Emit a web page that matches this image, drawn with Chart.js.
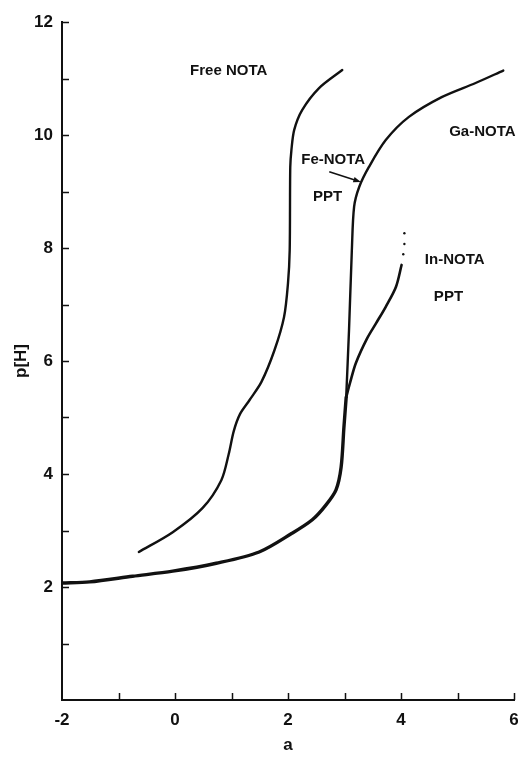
<!DOCTYPE html>
<html>
<head>
<meta charset="utf-8">
<script src="https://cdn.jsdelivr.net/npm/chart.js@4.4.0/dist/chart.umd.min.js"></script>
<style>
  html, body { margin: 0; padding: 0; background: #fff; }
</style>
</head>
<body>
<canvas id="titration" width="518" height="761"></canvas>
<script>
// titration curves: p[H] vs a (equivalents of base)

// Free NOTA curve
const freeX = [-0.64, -0.04, 0.49, 0.82, 0.95, 1.04, 1.15, 1.32, 1.53, 1.76, 1.93, 2.00, 2.03, 2.04, 2.06, 2.11, 2.25, 2.55, 2.96];
const freeY = [2.62, 2.97, 3.40, 3.89, 4.35, 4.76, 5.06, 5.31, 5.63, 6.19, 6.78, 7.38, 7.96, 9.43, 9.73, 10.09, 10.44, 10.83, 11.15];

// common (thick) part of the metal complex curves
const mainX = [-2, -1.51, -0.75, -0.04, 0.73, 1.49, 2.07, 2.43, 2.67, 2.85, 2.94, 2.99, 3.03];
const mainY = [2.07, 2.09, 2.19, 2.28, 2.42, 2.62, 2.95, 3.19, 3.45, 3.72, 4.12, 4.83, 5.36];

// Fe-NOTA / Ga-NOTA branch
const gaX = [3.03, 3.08, 3.13, 3.17, 3.26, 3.43, 3.73, 4.14, 4.72, 5.32, 5.81];
const gaY = [5.36, 6.55, 7.96, 8.73, 9.08, 9.43, 9.91, 10.32, 10.67, 10.92, 11.14];

// In-NOTA branch
const inX = [3.03, 3.10, 3.20, 3.40, 3.56, 3.73, 3.91, 4.01];
const inY = [5.36, 5.62, 5.96, 6.40, 6.67, 6.96, 7.31, 7.70];

// dotted continuation of In-NOTA
const dotsX = [4.04, 4.06, 4.06];
const dotsY = [7.89, 8.07, 8.26];

// axes
const xMin = -2, xMax = 6;
const yMin = 0, yMax = 12;

// text labels placed in data units
const labelText = ['Free NOTA', 'Fe-NOTA', 'PPT', 'Ga-NOTA', 'In-NOTA', 'PPT'];
const labelX = [0.95, 2.80, 2.70, 5.44, 4.95, 4.84];
const labelY = [11.13, 9.56, 8.90, 10.05, 7.79, 7.13];

// arrow from Fe-NOTA label to curve
const arrowX = [2.73, 3.29];
const arrowY = [9.35, 9.17];

function pts(xs, ys){ return xs.map((x, i) => ({ x, y: ys[i] })); }

const FONT = "'Liberation Sans', Arial, Helvetica, sans-serif";
const INK = '#111';

// ticks pointing into the plot area
const innerTicks = {
  id: 'innerTicks',
  afterDraw(chart){
    const { ctx, chartArea, scales: { x, y } } = chart;
    ctx.save();
    ctx.strokeStyle = INK;
    ctx.lineWidth = 1.5;
    ctx.beginPath();
    for(let v = xMin + 1; v <= xMax; v++){
      const px = Math.round(x.getPixelForValue(v)) + 0.5;
      ctx.moveTo(px, chartArea.bottom);
      ctx.lineTo(px, chartArea.bottom - 7);
    }
    for(let v = yMin + 1; v <= yMax; v++){
      const py = Math.round(y.getPixelForValue(v)) + 0.5;
      ctx.moveTo(chartArea.left, py);
      ctx.lineTo(chartArea.left + 7, py);
    }
    ctx.stroke();
    ctx.restore();
  }
};

// curve labels + the arrow
const annotations = {
  id: 'annotations',
  afterDatasetsDraw(chart){
    const { ctx, scales: { x, y } } = chart;
    ctx.save();
    ctx.fillStyle = INK;
    ctx.font = 'bold 15px ' + FONT;
    ctx.textAlign = 'center';
    ctx.textBaseline = 'middle';
    labelText.forEach((t, i) => {
      ctx.fillText(t, x.getPixelForValue(labelX[i]), y.getPixelForValue(labelY[i]));
    });
    const x0 = x.getPixelForValue(arrowX[0]), y0 = y.getPixelForValue(arrowY[0]);
    const x1 = x.getPixelForValue(arrowX[1]), y1 = y.getPixelForValue(arrowY[1]);
    const ang = Math.atan2(y1 - y0, x1 - x0);
    ctx.strokeStyle = INK;
    ctx.lineWidth = 1.5;
    ctx.beginPath();
    ctx.moveTo(x0, y0);
    ctx.lineTo(x1 - 4 * Math.cos(ang), y1 - 4 * Math.sin(ang));
    ctx.stroke();
    ctx.beginPath();
    ctx.moveTo(x1, y1);
    ctx.lineTo(x1 - 8 * Math.cos(ang - 0.35), y1 - 8 * Math.sin(ang - 0.35));
    ctx.lineTo(x1 - 8 * Math.cos(ang + 0.35), y1 - 8 * Math.sin(ang + 0.35));
    ctx.closePath();
    ctx.fill();
    ctx.restore();
  }
};

function curve(data, width){
  return {
    data,
    showLine: true,
    borderColor: INK,
    backgroundColor: INK,
    borderWidth: width,
    pointRadius: 0,
    tension: 0.3,
    borderCapStyle: 'round',
    borderJoinStyle: 'round'
  };
}

new Chart(document.getElementById('titration'), {
  type: 'scatter',
  data: {
    datasets: [
      curve(pts(freeX, freeY), 2.4),
      curve(pts(mainX, mainY), 3.4),
      curve(pts(gaX, gaY), 2.4),
      curve(pts(inX, inY), 2.6),
      {
        data: pts(dotsX, dotsY),
        showLine: false,
        pointRadius: 1.2,
        pointBorderWidth: 0,
        backgroundColor: INK
      }
    ]
  },
  options: {
    responsive: false,
    animation: false,
    events: [],
    layout: { padding: { top: 22, right: 3, bottom: 0, left: 0 } },
    plugins: { legend: { display: false }, tooltip: { enabled: false } },
    scales: {
      x: {
        type: 'linear',
        min: xMin, max: xMax,
        grid: { drawOnChartArea: false, drawTicks: false },
        border: { color: INK, width: 2 },
        ticks: {
          stepSize: 1,
          autoSkip: false,
          maxRotation: 0,
          padding: 10,
          color: INK,
          font: { family: FONT, size: 17, weight: 'bold' },
          callback: v => (v % 2 === 0 ? String(v) : '')
        },
        title: {
          display: true, text: 'a', color: INK,
          font: { family: FONT, size: 17, weight: 'bold' },
          padding: { top: 0, bottom: 5 }
        },
        afterFit(s){ s.height = 61; s.paddingLeft = 0; s.paddingRight = 0; }
      },
      y: {
        type: 'linear',
        min: yMin, max: yMax,
        grid: { drawOnChartArea: false, drawTicks: false },
        border: { color: INK, width: 2 },
        ticks: {
          stepSize: 1,
          autoSkip: false,
          padding: 9,
          color: INK,
          font: { family: FONT, size: 17, weight: 'bold' },
          callback: v => (v % 2 === 0 && v !== 0 ? String(v) : '')
        },
        title: {
          display: true, text: 'p[H]', color: INK,
          font: { family: FONT, size: 17, weight: 'bold' },
          padding: { top: 11, bottom: 0 }
        },
        afterFit(s){ s.width = 62; s.paddingTop = 0; s.paddingBottom = 0; }
      }
    }
  },
  plugins: [innerTicks, annotations]
});
</script>
</body>
</html>
